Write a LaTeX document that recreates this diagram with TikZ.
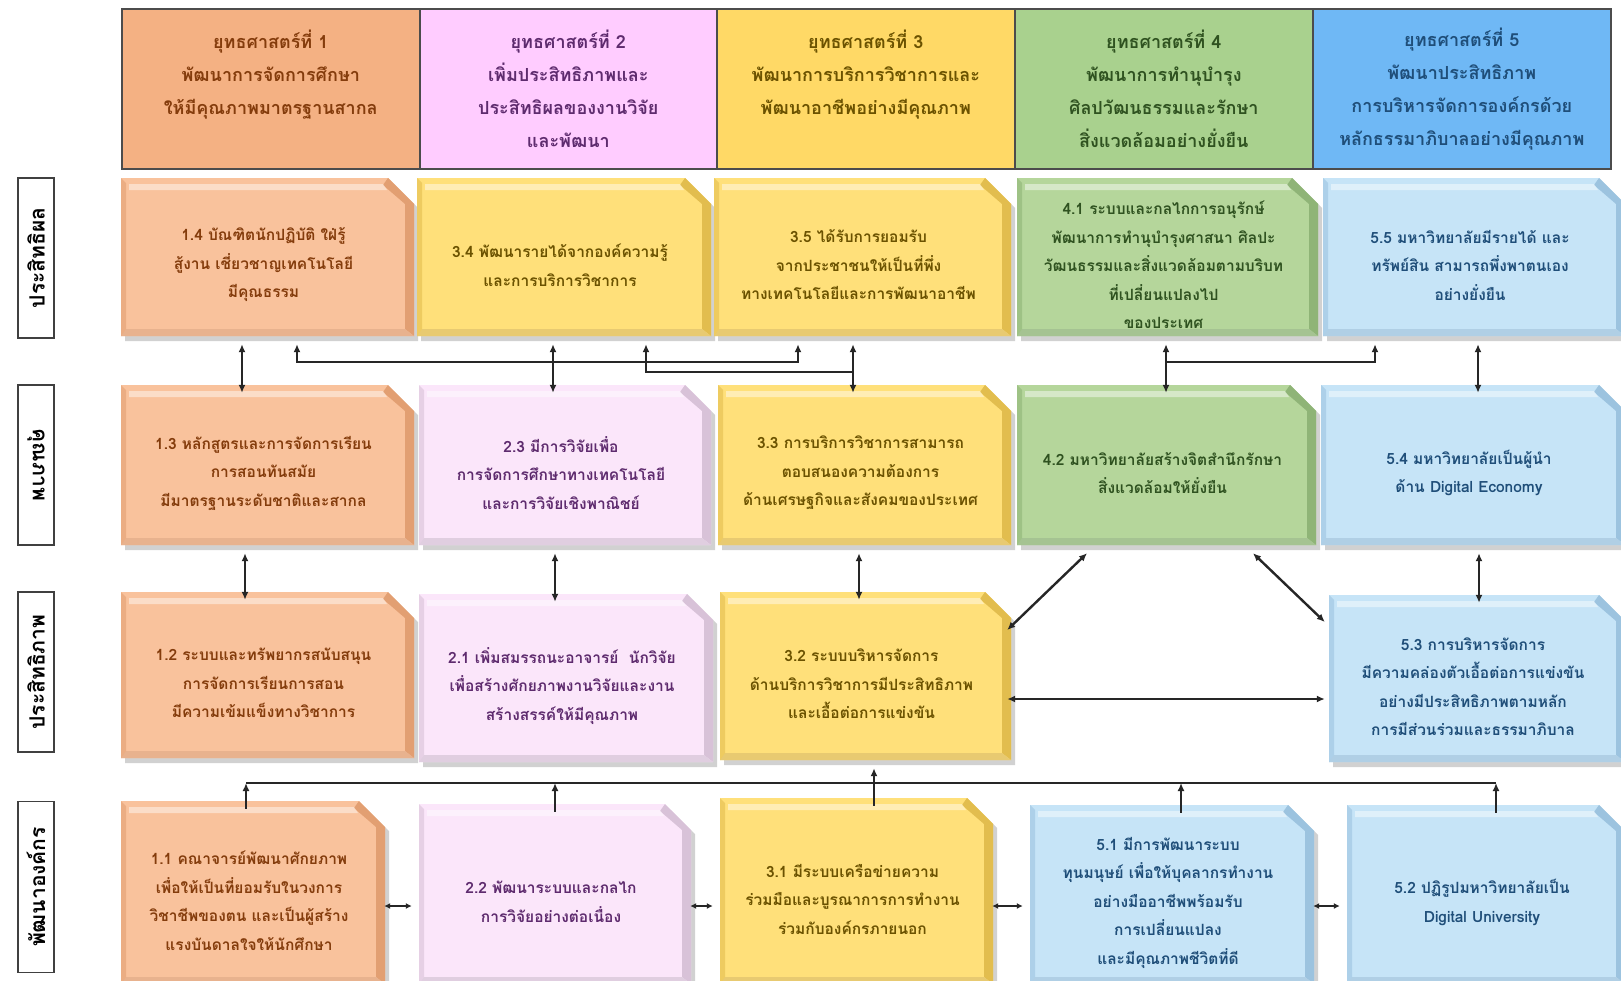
\documentclass[tikz,border=0pt]{standalone}
\usepackage{fontspec}
\newfontfamily\thaifont[Script=Thai]{Loma}
\usetikzlibrary{arrows.meta,calc}
\definecolor{h1}{HTML}{F4B183}
\definecolor{h2}{HTML}{FFCCFF}
\definecolor{h3}{HTML}{FFD966}
\definecolor{h4}{HTML}{A9D18E}
\definecolor{h5}{HTML}{6FB8F5}
\definecolor{f1}{HTML}{F9C29C}
\definecolor{f2}{HTML}{FBE6FA}
\definecolor{f3}{HTML}{FFE07A}
\definecolor{f4}{HTML}{B5D69B}
\definecolor{f5}{HTML}{C6E4F7}
\definecolor{d1}{HTML}{E29F72}
\definecolor{d2}{HTML}{D8C2D8}
\definecolor{d3}{HTML}{E2BD4E}
\definecolor{d4}{HTML}{8FB477}
\definecolor{d5}{HTML}{9CC3DF}
\definecolor{t1}{HTML}{843C0C}
\definecolor{t2}{HTML}{5E2B6E}
\definecolor{t3}{HTML}{6B5200}
\definecolor{t4}{HTML}{2F5220}
\definecolor{t5}{HTML}{1F4E79}
% #1 name, #2 x1, #3 y1, #4 x2, #5 y2, #6 colour index, #7 text
\newcommand\fbx[7]{%
  \fill[black!40,opacity=.45] (#2+4,#3+6) -- (#4-20,#3+6) -- (#4+4,#3+30) -- (#4+4,#5+5) -- (#2+4,#5+5) -- cycle;
  \fill[f#6] (#2,#3) -- (#4-26,#3) -- (#4,#3+26) -- (#4,#5) -- (#2,#5) -- cycle;
  \fill[d#6] (#4-9,#3+26) -- (#4,#3+26) -- (#4,#5) -- (#4-9,#5-7) -- cycle;
  \fill[d#6!80!white] (#2,#5-7) -- (#4-9,#5-7) -- (#4,#5) -- (#2,#5) -- cycle;
  \fill[d#6] (#4-26,#3) -- (#4,#3+26) -- (#4-9,#3+26) -- (#4-31,#3+7) -- cycle;
  \fill[d#6!60!f#6] (#2,#3) -- (#2+5,#3+5) -- (#2+5,#5-7) -- (#2,#5) -- cycle;
  \fill[white,opacity=.45] (#2+8,#3+6) -- (#4-31,#3+6) -- (#4-27,#3+12) -- (#2+8,#3+12) -- cycle;
  \node[btext,text=t#6] (#1) at ({(#2+#4)/2-4},{(#3+#5)/2+8}) [minimum width={#4-#2}, minimum height={#5-#3}] {#7};
}
\begin{document}
\begin{tikzpicture}[x=1pt,y=-1pt,
  every node/.style={inner sep=0pt, align=center},
  btext/.style={font=\thaifont\bfseries\fontsize{15.5}{28.5}\selectfont},
  hdr/.style={draw=black!70, line width=1.6pt, anchor=north west, minimum height=160,
    font=\thaifont\bfseries\fontsize{18}{33}\selectfont},
  lbl/.style={draw=black!75, line width=1.6pt, fill=white, minimum height=36,
    font=\thaifont\bfseries\fontsize{21}{24}\selectfont},
  conn/.style={draw=black!85, line width=2.4pt},
  dbl/.style={conn, {Latex[length=8pt,width=7pt]}-{Latex[length=8pt,width=7pt]}},
  up/.style={conn, -{Latex[length=8pt,width=7pt]}},
  sdbl/.style={conn, line width=2pt, shorten <=3pt, shorten >=3pt, {Latex[length=6pt,width=6pt]}-{Latex[length=6pt,width=6pt]}}]
\useasboundingbox (0,0) rectangle (1621,980);
\fill[white] (0,0) rectangle (1621,980);

% headers
\node[hdr, fill=h1, text=t1, minimum width=298] (s1) at (121,8) {ยุทธศาสตร์ที่ 1\\พัฒนาการจัดการศึกษา\\ให้มีคุณภาพมาตรฐานสากล\\\mbox{}};
\node[hdr, fill=h2, text=t2, minimum width=297] (s2) at (419,8) {ยุทธศาสตร์ที่ 2\\เพิ่มประสิทธิภาพและ\\ประสิทธิผลของงานวิจัย\\และพัฒนา};
\node[hdr, fill=h3, text=t3, minimum width=298] (s3) at (716,8) {ยุทธศาสตร์ที่ 3\\พัฒนาการบริการวิชาการและ\\พัฒนาอาชีพอย่างมีคุณภาพ\\\mbox{}};
\node[hdr, fill=h4, text=t4, minimum width=298] (s4) at (1014,8) {ยุทธศาสตร์ที่ 4\\พัฒนาการทำนุบำรุง\\ศิลปวัฒนธรรมและรักษา\\สิ่งแวดล้อมอย่างยั่งยืน};
\node[hdr, fill=h5, text=t5, minimum width=298] (s5) at (1312,8) {ยุทธศาสตร์ที่ 5\\พัฒนาประสิทธิภาพ\\การบริหารจัดการองค์กรด้วย\\หลักธรรมาภิบาลอย่างมีคุณภาพ};

% row labels
\node[lbl, rotate=90, minimum width=160] (r1) at (36,258) {ประสิทธิผล};
\node[lbl, rotate=-90, minimum width=160] (r2) at (36,465) {คุณภาพ};
\node[lbl, rotate=90, minimum width=160] (r3) at (36,672) {ประสิทธิภาพ};
\node[lbl, rotate=90, minimum width=171] (r4) at (36,887) {พัฒนาองค์กร};

% row 1
\fbx{n14}{121}{178}{414}{336}{1}{1.4 บัณฑิตนักปฏิบัติ ใฝ่รู้\\สู้งาน เชี่ยวชาญเทคโนโลยี\\มีคุณธรรม}
\fbx{n34}{417}{178}{711}{336}{3}{3.4 พัฒนารายได้จากองค์ความรู้\\และการบริการวิชาการ}
\fbx{n35}{714}{178}{1011}{336}{3}{3.5 ได้รับการยอมรับ\\จากประชาชนให้เป็นที่พึ่ง\\ทางเทคโนโลยีและการพัฒนาอาชีพ}
\fbx{n41}{1017}{178}{1318}{336}{4}{4.1 ระบบและกลไกการอนุรักษ์\\พัฒนาการทำนุบำรุงศาสนา ศิลปะ\\วัฒนธรรมและสิ่งแวดล้อมตามบริบท\\ที่เปลี่ยนแปลงไป\\ของประเทศ}
\fbx{n55}{1323}{178}{1625}{336}{5}{5.5 มหาวิทยาลัยมีรายได้ และ\\ทรัพย์สิน สามารถพึ่งพาตนเอง\\อย่างยั่งยืน}

% row 2
\fbx{n13}{121}{385}{414}{545}{1}{1.3 หลักสูตรและการจัดการเรียน\\การสอนทันสมัย\\มีมาตรฐานระดับชาติและสากล}
\fbx{n23}{419}{385}{711}{545}{2}{2.3 มีการวิจัยเพื่อ\\การจัดการศึกษาทางเทคโนโลยี\\และการวิจัยเชิงพาณิชย์}
\fbx{n33}{718}{385}{1011}{545}{3}{3.3 การบริการวิชาการสามารถ\\ตอบสนองความต้องการ\\ด้านเศรษฐกิจและสังคมของประเทศ}
\fbx{n42}{1017}{385}{1316}{545}{4}{4.2 มหาวิทยาลัยสร้างจิตสำนึกรักษา\\สิ่งแวดล้อมให้ยั่งยืน}
\fbx{n54}{1321}{385}{1625}{545}{5}{5.4 มหาวิทยาลัยเป็นผู้นำ\\ด้าน Digital Economy}

% row 3
\fbx{n12}{121}{592}{414}{758}{1}{1.2 ระบบและทรัพยากรสนับสนุน\\การจัดการเรียนการสอน\\มีความเข้มแข็งทางวิชาการ}
\fbx{n21}{419}{594}{713}{762}{2}{2.1 เพิ่มสมรรถนะอาจารย์ \ นักวิจัย\\เพื่อสร้างศักยภาพงานวิจัยและงาน\\สร้างสรรค์ให้มีคุณภาพ}
\fbx{n32}{720}{592}{1011}{760}{3}{3.2 ระบบบริหารจัดการ\\ด้านบริการวิชาการมีประสิทธิภาพ\\และเอื้อต่อการแข่งขัน}
\fbx{n53}{1329}{595}{1625}{762}{5}{5.3 การบริหารจัดการ\\มีความคล่องตัวเอื้อต่อการแข่งขัน\\อย่างมีประสิทธิภาพตามหลัก\\การมีส่วนร่วมและธรรมาภิบาล}

% row 4
\fbx{n11}{121}{801}{385}{984}{1}{1.1 คณาจารย์พัฒนาศักยภาพ\\เพื่อให้เป็นที่ยอมรับในวงการ\\วิชาชีพของตน และเป็นผู้สร้าง\\แรงบันดาลใจให้นักศึกษา}
\fbx{n22}{419}{804}{691}{984}{2}{2.2 พัฒนาระบบและกลไก\\การวิจัยอย่างต่อเนื่อง}
\fbx{n31}{720}{798}{993}{984}{3}{3.1 มีระบบเครือข่ายความ\\ร่วมมือและบูรณาการการทำงาน\\ร่วมกับองค์กรภายนอก}
\fbx{n51}{1030}{805}{1314}{984}{5}{5.1 มีการพัฒนาระบบ\\ทุนมนุษย์ เพื่อให้บุคลากรทำงาน\\อย่างมืออาชีพพร้อมรับ\\การเปลี่ยนแปลง\\และมีคุณภาพชีวิตที่ดี}
\fbx{n52}{1347}{805}{1625}{984}{5}{5.2 ปฏิรูปมหาวิทยาลัยเป็น\\Digital University}

% connectors row 1 - row 2
\draw[dbl] (242,0 |- n14.south) -- (242,0 |- n13.north);
\draw[dbl] (297,0 |- n14.south) -- (297,362) -- (798,362) -- (798,0 |- n35.south);
\draw[dbl] (553,0 |- n34.south) -- (553,0 |- n23.north);
\draw[up] (853,372) -- (646,372) -- (646,0 |- n34.south);
\draw[dbl] (853,0 |- n35.south) -- (853,0 |- n33.north);
\draw[dbl] (1166,0 |- n41.south) -- (1166,0 |- n42.north);
\draw[up] (1166,362) -- (1375,362) -- (1375,0 |- n55.south);
\draw[dbl] (1478,0 |- n55.south) -- (1478,0 |- n54.north);

% connectors row 2 - row 3
\draw[dbl] (245,0 |- n13.south) -- (245,0 |- n12.north);
\draw[dbl] (555,0 |- n23.south) -- (555,0 |- n21.north);
\draw[dbl] (859,0 |- n33.south) -- (859,0 |- n32.north);
\draw[dbl] (1087,0 |- n42.south) -- (n32.east |- 0,630);
\draw[dbl] (1253,0 |- n42.south) -- (n53.west |- 0,622);
\draw[dbl] (1479,0 |- n54.south) -- (1479,0 |- n53.north);
\draw[dbl] (n32.east |- 0,699) -- (n53.west |- 0,699);

% row 3 - row 4 bus
\coordinate (busL) at (246,783);
\coordinate (busR) at (1496,783);
\draw[conn] (busL) -- (busR);
\draw[up] (246,0 |- n11.north) -- (busL);
\draw[up] (555,0 |- n22.north) -- (555,783);
\draw[up] (874,0 |- n31.north) -- (874,0 |- n32.south);
\draw[up] (1181,0 |- n51.north) -- (1181,783);
\draw[up] (1496,0 |- n52.north) -- (busR);

% row 4 links
\draw[sdbl] (n11.east |- 0,906) -- (n22.west |- 0,906);
\draw[sdbl] (n22.east |- 0,906) -- (n31.west |- 0,906);
\draw[sdbl] (n31.east |- 0,906) -- (n51.west |- 0,906);
\draw[sdbl] (n51.east |- 0,906) -- (n52.west |- 0,906);
\end{tikzpicture}
\end{document}
